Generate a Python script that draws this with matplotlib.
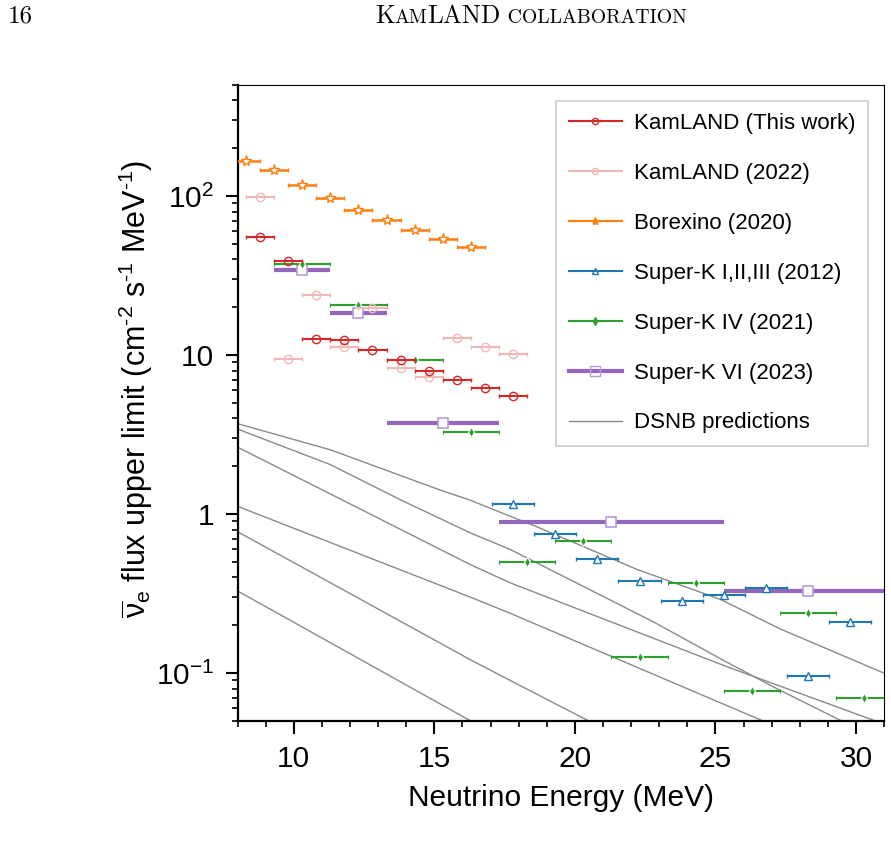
import matplotlib.pyplot as plt
import numpy as np
from matplotlib.lines import Line2D
from matplotlib.ticker import LogLocator, NullFormatter

plt.rcParams['font.family'] = ['Liberation Sans', 'DejaVu Sans']
plt.rcParams['mathtext.fontset'] = 'custom'
plt.rcParams['mathtext.rm'] = 'Liberation Sans'
plt.rcParams['mathtext.it'] = 'Liberation Sans:italic'
plt.rcParams['mathtext.bf'] = 'Liberation Sans:bold'

# KamLAND (this work) and KamLAND (2022), 1 MeV bins
kl_E = np.array([8.8, 9.8, 10.8, 11.8, 12.8, 13.8, 14.8, 15.8, 16.8, 17.8])
kl_hw = np.array([0.5] * 10)
kl_new = np.array([55.6, 39.1, 12.7, 12.5, 10.8, 9.3, 8.0, 7.0, 6.2, 5.5])
kl_2022 = np.array([98.9, 9.5, 23.8, 11.2, 19.9, 8.35, 7.3, 12.8, 11.2, 10.1])

# Borexino (2020)
bx_E = np.array([8.3, 9.3, 10.3, 11.3, 12.3, 13.3, 14.3, 15.3, 16.3])
bx_hw = np.array([0.5] * 9)
bx_val = np.array([166.7, 145.6, 118.0, 96.7, 81.8, 70.8, 61.0, 53.7, 47.9])

# Super-K I,II,III (2012)
sk1_E = np.array([17.8, 19.3, 20.8, 22.3, 23.8, 25.3, 26.8, 28.3, 29.8])
sk1_hw = np.array([0.75] * 9)
sk1_val = np.array([1.16, 0.748, 0.522, 0.380, 0.286, 0.309, 0.345, 0.096, 0.209])

# Super-K IV (2021)
sk4_E = np.array([10.3, 12.3, 14.3, 16.3, 18.3, 20.3, 22.3, 24.3, 26.3, 28.3, 30.3])
sk4_hw = np.array([1.0] * 11)
sk4_val = np.array([37.2, 20.6, 9.33, 3.27, 0.502, 0.679, 0.126, 0.370, 0.0767, 0.239, 0.0695])

# Super-K VI (2023)
sk6_E = np.array([10.3, 12.3, 15.3, 21.3, 28.3])
sk6_lo = np.array([9.3, 11.3, 13.3, 17.3, 25.3])
sk6_hi = np.array([11.3, 13.3, 17.3, 25.3, 31.3])
sk6_val = np.array([34.1, 18.5, 3.74, 0.894, 0.327])

# DSNB predictions
dsnb_E = [
    [8.0, 11.3, 15.2, 16.3, 17.7, 18.6, 22.2, 25.2, 27.3, 31.0],
    [8.0, 11.3, 13.8, 16.3, 17.7, 22.8, 25.3, 27.3, 29.5],
    [8.0, 16.3, 17.7, 25.4, 30.7],
    [8.0, 16.3, 17.7, 26.7],
    [8.0, 16.3, 17.7, 20.5],
    [8.0, 16.3],
]
dsnb_val = [
    [3.71, 2.54, 1.42, 1.22, 0.97, 0.84, 0.45, 0.29, 0.19, 0.10],
    [3.43, 2.05, 1.23, 0.76, 0.60, 0.21, 0.12, 0.078, 0.05],
    [2.64, 0.48, 0.37, 0.11, 0.05],
    [1.12, 0.30, 0.238, 0.05],
    [0.776, 0.121, 0.090, 0.05],
    [0.329, 0.05],
]

labels = ['KamLAND (This work)', 'KamLAND (2022)', 'Borexino (2020)',
          'Super-K I,II,III (2012)', 'Super-K IV (2021)', 'Super-K VI (2023)',
          'DSNB predictions']

red = '#d62728'
pink = '#f2b7b7'
orange = '#ff7f0e'
blue = '#1f77b4'
green = '#2ca02c'
purple = '#9467bd'
purple_l = '#b99bdb'
grey = '#8a8a8a'

fig = plt.figure(figsize=(8.91, 8.63), dpi=100)
ax = fig.add_axes([0.2666, 0.1645, 0.7256, 0.7370])

for E, v in zip(dsnb_E, dsnb_val):
    ax.plot(E, v, color=grey, lw=1.0, zorder=1)

ax.errorbar(sk6_E, sk6_val, xerr=[sk6_E - sk6_lo, sk6_hi - sk6_E], fmt='s', color=purple,
            ms=7.8, mfc='white', mec=purple_l, mew=1.2, elinewidth=3.0, capsize=0, zorder=2)
ax.errorbar(sk4_E, sk4_val, xerr=sk4_hw, fmt='d', color=green, ms=5.5, mfc=green, mec='white',
            mew=0.8, elinewidth=1.5, capsize=1.5, capthick=1.5, zorder=3)
ax.errorbar(sk1_E, sk1_val, xerr=sk1_hw, fmt='^', color=blue, ms=6, mfc='white', mec=blue,
            mew=1.0, elinewidth=1.5, capsize=1.5, capthick=1.5, zorder=3)
ax.errorbar(bx_E, bx_val, xerr=bx_hw, fmt='*', color=orange, ms=8, mfc='white', mec=orange,
            mew=1.0, elinewidth=1.8, capsize=1.5, capthick=1.5, zorder=3)
ax.errorbar(kl_E, kl_2022, xerr=kl_hw, fmt='o', color=pink, ms=6, mfc='none', mec=pink,
            mew=1.0, elinewidth=1.5, capsize=1.5, capthick=1.5, zorder=4)
ax.errorbar(kl_E, kl_new, xerr=kl_hw, fmt='o', color=red, ms=6, mfc='none', mec=red,
            mew=1.0, elinewidth=1.5, capsize=1.5, capthick=1.5, zorder=5)

ax.set_yscale('log')
ax.set_xlim(8, 31)
ax.set_ylim(0.05, 500)
ax.set_xticks([10, 15, 20, 25, 30])
ax.set_xticks(np.arange(8, 32), minor=True)
ax.set_yticks([0.1, 1, 10, 100], labels=[r'$10^{-1}$', '1', '10', r'$10^{2}$'])
ax.yaxis.set_minor_locator(LogLocator(base=10, subs=np.arange(2, 10)))
ax.yaxis.set_minor_formatter(NullFormatter())

ax.tick_params(which='major', direction='out', length=9, width=1.5, labelsize=21.5, pad=8,
               top=False, right=False)
ax.tick_params(which='minor', direction='out', length=4, width=1.2, top=False, right=False)
for s in ['left', 'bottom']:
    ax.spines[s].set_linewidth(1.6)
for s in ['top', 'right']:
    ax.spines[s].set_linewidth(0.8)

ax.set_xlabel('Neutrino Energy (MeV)', fontsize=21.5, labelpad=8)
ax.set_ylabel(r'$\overline{\mathrm{\nu}}_{\mathrm{e}}$ flux upper limit (cm$^{\text{-}2}$ s$^{\text{-}1}$ MeV$^{\text{-}1}$)',
              fontsize=22)
ax.yaxis.set_label_coords(-0.127, 0.522)

handles = [
    Line2D([], [], color=red, lw=1.5, marker='o', ms=4.5, mfc='none', mec=red),
    Line2D([], [], color=pink, lw=1.5, marker='o', ms=4.5, mfc='none', mec=pink),
    Line2D([], [], color=orange, lw=1.5, marker='*', ms=6, mfc=orange, mec=orange),
    Line2D([], [], color=blue, lw=1.5, marker='^', ms=5, mfc='none', mec=blue),
    Line2D([], [], color=green, lw=1.5, marker='d', ms=4, mfc=green, mec=green),
    Line2D([], [], color=purple, lw=3.0, marker='s', ms=7, mfc='none', mec=purple_l),
    Line2D([], [], color=grey, lw=1.0),
]
leg = ax.legend(handles, labels, loc='upper right', bbox_to_anchor=(0.975, 0.975), borderaxespad=0,
                fontsize=16, fancybox=False, edgecolor='#cccccc', framealpha=1,
                handlelength=2.4, handletextpad=0.55, labelspacing=1.3, borderpad=0.55)
leg.get_frame().set_linewidth(1.2)

# page header
fig.text(0.009, 0.9735, '16', family='cmr10', fontsize=18, va='baseline')
r = fig.canvas.get_renderer()
x = 375 / 891
for s, size in [('K', 18.3), ('AM', 14.2), ('LAND', 18.3), (' COLLABORATION', 14.2)]:
    t = fig.text(x, 0.9735, s, family='cmr10', fontsize=size, va='baseline')
    x += t.get_window_extent(r).width / fig.bbox.width

fig.savefig('out.png', dpi=100)
